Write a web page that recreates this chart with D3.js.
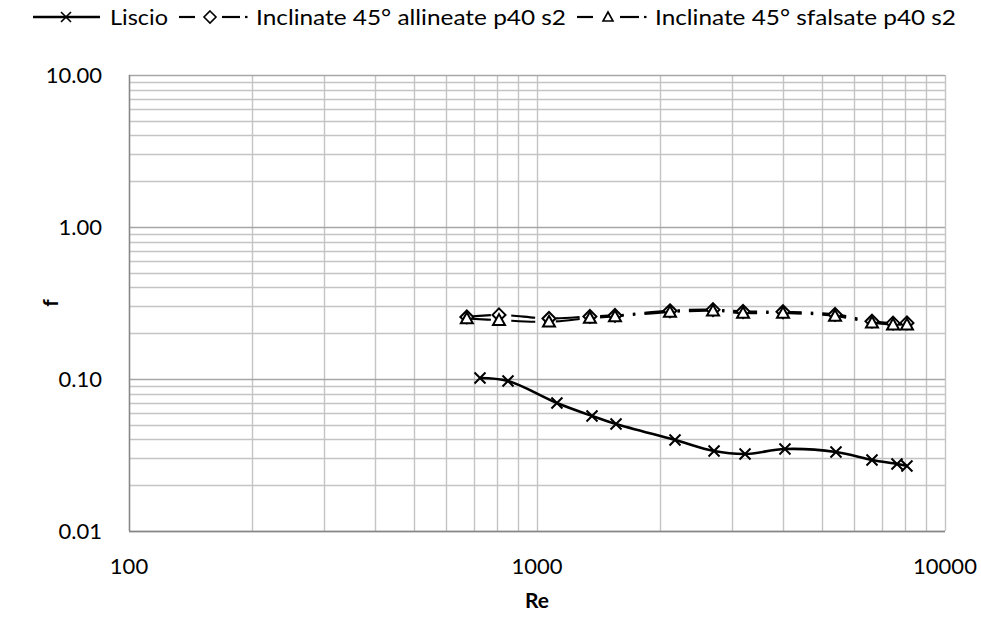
<!DOCTYPE html>
<html><head><meta charset="utf-8">
<script src="https://cdnjs.cloudflare.com/ajax/libs/d3/7.8.5/d3.min.js"></script>
<style>body{margin:0;background:#fff}svg{display:block}</style>
</head><body>
<svg id="c" width="981" height="619"></svg>
<script>
const reLiscio = [725, 849, 1119, 1364, 1562, 2179, 2716, 3235, 4053, 5405, 6623, 7626, 8068];
const fLiscio  = [0.1016, 0.097, 0.0695, 0.0571, 0.0506, 0.0397, 0.0336, 0.0321, 0.0346, 0.0331, 0.0293, 0.0276, 0.0268];
const reAll    = [673, 807, 1070, 1348, 1553, 2118, 2700, 3199, 4008, 5376, 6623, 7459, 8068];
const fAll     = [0.256, 0.264, 0.250, 0.258, 0.262, 0.281, 0.286, 0.278, 0.277, 0.266, 0.240, 0.233, 0.234];
const reSfa    = [673, 807, 1070, 1348, 1553, 2118, 2700, 3199, 4008, 5376, 6623, 7459, 8068];
const fSfa     = [0.250, 0.244, 0.238, 0.252, 0.258, 0.276, 0.281, 0.272, 0.272, 0.260, 0.235, 0.228, 0.228];
const xTicks = [100, 1000, 10000];
const yTicks = [0.01, 0.1, 1, 10];
const seriesNames = ["Liscio", "Inclinate 45° allineate p40 s2", "Inclinate 45° sfalsate p40 s2"];

const svg = d3.select("#c");
const FONT = "Lato,'Open Sans',sans-serif";
const L = 129, R = 945, T = 75, B = 531;
const x = d3.scaleLog().domain([100, 10000]).range([L, R]);
const y = d3.scaleLog().domain([0.01, 10]).range([B, T]);

// grid
const minorX = [], minorY = [];
[100, 1000].forEach(d => { for (let k = 2; k <= 9; k++) minorX.push(d * k); });
[0.01, 0.1, 1].forEach(d => { for (let k = 2; k <= 9; k++) minorY.push(d * k); });
const g = svg.append("g");
g.selectAll(".vx").data(minorX.concat(xTicks)).enter().append("line")
  .attr("x1", d => Math.round(x(d)) + 0.5).attr("x2", d => Math.round(x(d)) + 0.5)
  .attr("y1", T).attr("y2", B).attr("stroke", "#c4c4c4").attr("stroke-width", 1.4);
g.selectAll(".hy").data(minorY.concat(yTicks)).enter().append("line")
  .attr("y1", d => Math.round(y(d)) + 0.5).attr("y2", d => Math.round(y(d)) + 0.5)
  .attr("x1", L).attr("x2", R).attr("stroke", d => yTicks.includes(d) ? "#a6a6a6" : "#c4c4c4").attr("stroke-width", 1.4);
svg.append("line").attr("x1", L + 0.5).attr("x2", L + 0.5).attr("y1", T).attr("y2", B).attr("stroke", "#868686").attr("stroke-width", 1.4);
svg.append("line").attr("x1", L).attr("x2", R).attr("y1", B + 0.5).attr("y2", B + 0.5).attr("stroke", "#868686").attr("stroke-width", 1.4);

// tick labels
svg.selectAll(".yl").data(yTicks).enter().append("text")
  .attr("x", 102).attr("y", d => y(d) + 8).attr("text-anchor", "end")
  .attr("font-family", FONT).attr("font-size", 22).attr("fill", "#000")
  .text(d => d3.format(".2f")(d));
svg.selectAll(".xl").data(xTicks).enter().append("text")
  .attr("x", d => x(d)).attr("y", 574).attr("text-anchor", "middle")
  .attr("font-family", FONT).attr("font-size", 22).attr("fill", "#000")
  .text(d => d);
svg.append("text").attr("x", 537).attr("y", 608).attr("text-anchor", "middle")
  .attr("font-family", FONT).attr("font-size", 21).attr("font-weight", "bold").text("Re");
svg.append("text").attr("transform", "translate(58,303) rotate(-90)").attr("text-anchor", "middle")
  .attr("font-family", FONT).attr("font-size", 21).attr("font-weight", "bold").text("f");

const line = d3.line().x(d => x(d[0])).y(d => y(d[1])).curve(d3.curveCatmullRom.alpha(0.5));
const dashPat = "24,9,2.5,9";
const sAll = reAll.map((r, i) => [r, fAll[i]]);
const sSfa = reSfa.map((r, i) => [r, fSfa[i]]);
const sLis = reLiscio.map((r, i) => [r, fLiscio[i]]);

svg.append("path").attr("d", line(sAll)).attr("fill", "none").attr("stroke", "#000").attr("stroke-width", 2.2).attr("stroke-dasharray", dashPat);
svg.append("path").attr("d", line(sSfa)).attr("fill", "none").attr("stroke", "#000").attr("stroke-width", 2.2).attr("stroke-dasharray", dashPat);
svg.append("path").attr("d", line(sLis)).attr("fill", "none").attr("stroke", "#000").attr("stroke-width", 2.6);

const diamond = (cx, cy, s) => `M${cx},${cy - s}L${cx + s},${cy}L${cx},${cy + s}L${cx - s},${cy}Z`;
const tri = (cx, cy, s) => `M${cx},${cy - s}L${cx + s},${cy + s * 0.8}L${cx - s},${cy + s * 0.8}Z`;
const cross = (cx, cy, s) => `M${cx - s},${cy - s}L${cx + s},${cy + s}M${cx - s},${cy + s}L${cx + s},${cy - s}`;

svg.selectAll(".dm").data(sAll).enter().append("path")
  .attr("d", d => diamond(x(d[0]), y(d[1]), 6.5)).attr("fill", "#fff").attr("stroke", "#000").attr("stroke-width", 2);
svg.selectAll(".tr").data(sSfa).enter().append("path")
  .attr("d", d => tri(x(d[0]), y(d[1]), 6)).attr("fill", "#fff").attr("stroke", "#000").attr("stroke-width", 2);
svg.selectAll(".cr").data(sLis).enter().append("path")
  .attr("d", d => cross(x(d[0]), y(d[1]), 5.5)).attr("fill", "none").attr("stroke", "#000").attr("stroke-width", 2);

// legend
const ly = 17;
const leg = svg.append("g");
const seg = (x1, x2, w) => leg.append("line").attr("x1", x1).attr("x2", x2).attr("y1", ly).attr("y2", ly).attr("stroke", "#000").attr("stroke-width", w);
const ltext = (x0, w, t) => leg.append("text").attr("x", x0).attr("y", ly + 8).attr("font-family", FONT).attr("font-size", 22)
  .attr("textLength", w).attr("lengthAdjust", "spacingAndGlyphs").text(t);
// Liscio
seg(33, 100, 2.6);
leg.append("path").attr("d", cross(66, ly, 5)).attr("stroke", "#000").attr("stroke-width", 1.6).attr("fill", "none");
ltext(110, 58, seriesNames[0]);
// allineate
seg(179, 195, 2.2); seg(222, 240, 2.2); seg(245, 247.5, 2.2);
leg.append("path").attr("d", diamond(210, ly, 6)).attr("fill", "#fff").attr("stroke", "#000").attr("stroke-width", 1.6);
ltext(256, 310, seriesNames[1]);
// sfalsate
seg(577, 593, 2.2); seg(620, 639, 2.2); seg(644, 646.5, 2.2);
leg.append("path").attr("d", tri(608, ly, 5)).attr("fill", "#fff").attr("stroke", "#000").attr("stroke-width", 1.6);
ltext(655, 301, seriesNames[2]);
</script>
</body></html>
